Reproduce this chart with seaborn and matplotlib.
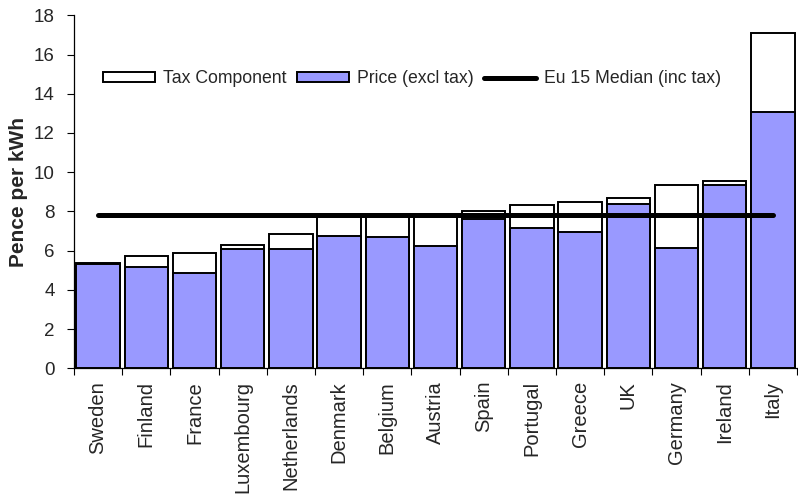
import matplotlib
matplotlib.use("Agg")
import matplotlib.pyplot as plt
from matplotlib.patches import Patch
from matplotlib.lines import Line2D
import seaborn as sns
import pandas as pd

# Domestic electricity prices, pence per kWh
countries = ["Sweden", "Finland", "France", "Luxembourg", "Netherlands",
             "Denmark", "Belgium", "Austria", "Spain", "Portugal",
             "Greece", "UK", "Germany", "Ireland", "Italy"]
price_excl_tax = [5.30, 5.18, 4.88, 6.10, 6.10, 6.75, 6.68, 6.25, 7.60,
                  7.16, 6.97, 8.36, 6.12, 9.35, 13.09]
price_incl_tax = [5.38, 5.73, 5.86, 6.30, 6.85, 7.70, 7.70, 7.72, 8.02,
                  8.31, 8.47, 8.70, 9.33, 9.55, 17.12]
eu15_median = [7.83] * len(countries)

df = pd.DataFrame({
    "country": countries,
    "excl": price_excl_tax,
    "incl": price_incl_tax,
    "median": eu15_median,
})

sns.set_style("ticks")
plt.rcParams["font.family"] = ["Liberation Sans", "DejaVu Sans"]

BLUE = "#9999FF"

fig = plt.figure(figsize=(7.98, 5.0), dpi=100)
ax = fig.add_axes([74 / 798, 1 - 368.3 / 500, 723 / 798, 353 / 500])

# Full price (incl. tax) drawn first in white: the visible white part is the tax
sns.barplot(data=df, x="country", y="incl", color="white", saturation=1,
            edgecolor="black", linewidth=1.4, width=0.9, errorbar=None, ax=ax)
# Price excluding tax on top
sns.barplot(data=df, x="country", y="excl", color=BLUE, saturation=1,
            edgecolor="black", linewidth=1.4, width=0.9, errorbar=None, ax=ax)
# EU-15 median line
sns.lineplot(data=df, x="country", y="median", color="black", linewidth=3.6,
             sort=False, ax=ax)
for ln in ax.get_lines():
    ln.set_solid_capstyle("round")

ax.set_xlim(-0.5, len(countries) - 0.5)
ax.set_ylim(0, 18)
ax.set_yticks(range(0, 19, 2))
ax.set_xlabel("")
ax.set_ylabel("Pence per kWh", fontsize=15, fontweight="bold")
ax.yaxis.set_label_coords(-0.064, 0.5)

ax.set_xticks(range(len(countries)))
ax.set_xticklabels(countries, rotation=90, fontsize=14.5)
ax.set_xticks([i - 0.5 for i in range(len(countries) + 1)], minor=True)
ax.tick_params(axis="x", which="major", length=0, pad=9)
ax.tick_params(axis="x", which="minor", length=5, width=0.8, color="black")
ax.tick_params(axis="y", which="major", length=5, width=0.8, color="black",
               labelsize=13.5, pad=9)

sns.despine(ax=ax)
ax.spines["left"].set_color("black")
ax.spines["bottom"].set_color("black")
ax.spines["left"].set_linewidth(0.9)
ax.spines["bottom"].set_linewidth(0.9)

handles = [
    Patch(facecolor="white", edgecolor="black", linewidth=1.4),
    Patch(facecolor=BLUE, edgecolor="black", linewidth=1.4),
    Line2D([0], [0], color="black", linewidth=3.6, solid_capstyle="round"),
]
labels = ["Tax Component", "Price (excl tax)", "Eu 15 Median (inc tax)"]
ax.legend(handles, labels, loc="center left", bbox_to_anchor=(0.04, 0.82),
          ncol=3, frameon=False, fontsize=12.7, handlelength=2.95,
          handleheight=0.5, handletextpad=0.45, columnspacing=0.6,
          borderpad=0, borderaxespad=0)

fig.savefig("out.png", dpi=100)
